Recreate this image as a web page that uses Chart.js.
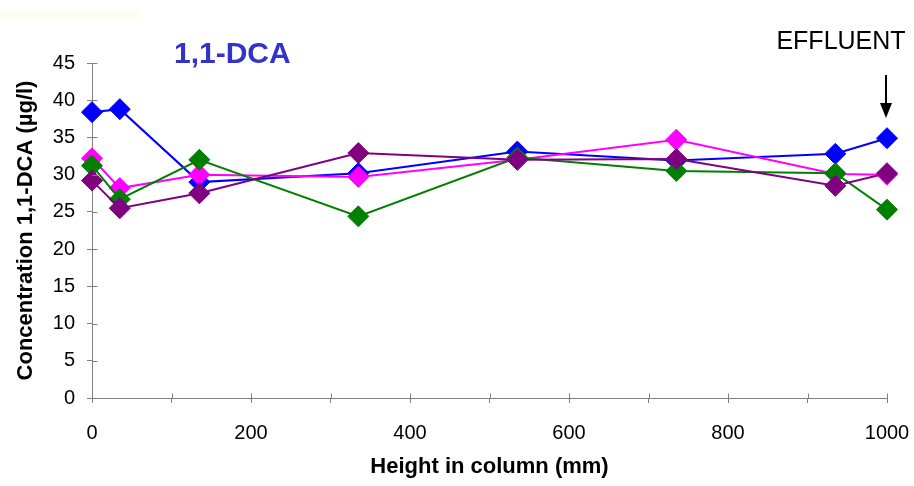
<!DOCTYPE html>
<html>
<head>
<meta charset="utf-8">
<script src="https://cdn.jsdelivr.net/npm/chart.js@4/dist/chart.umd.min.js"></script>
<style>
html,body{margin:0;padding:0;background:#fff;}
canvas{display:block;}
</style>
</head>
<body>
<canvas id="c" width="914" height="486"></canvas>
<script>
// ---- data ----
const heights = [0, 35, 135, 335, 535, 735, 935, 1000];
const seriesBlue    = [38.4, 38.8, 29.0, 30.2, 33.1, 31.9, 32.8, 34.9];
const seriesMagenta = [32.2, 28.2, 30.0, 29.7, 32.0, 34.7, 30.1, 30.0];
const seriesGreen   = [31.2, 26.7, 32.0, 24.4, 32.3, 30.5, 30.2, 25.3];
const seriesPurple  = [29.2, 25.5, 27.5, 32.9, 32.0, 32.1, 28.5, 30.2];
const xTickLabels = ['0', '200', '400', '600', '800', '1000'];
const yTickLabels = ['0','5','10','15','20','25','30','35','40','45'];
const chartTitle = '1,1-DCA';
const xTitle = 'Height in column (mm)';
const yTitle = 'Concentration 1,1-DCA (µg/l)';
const effluentLabel = 'EFFLUENT';

function pts(vals){ return heights.map((h,i)=>({x:h, y:vals[i]})); }
function ds(vals, color, order){
  return {
    data: pts(vals), showLine:true, borderColor:color, backgroundColor:color,
    borderWidth:2, pointStyle:'rectRot', pointRadius:10.5, pointHoverRadius:10.5,
    pointBorderWidth:1, pointBorderColor:color, pointBackgroundColor:color,
    tension:0, order:order, clip:false
  };
}

const axisColor = '#808080';
const FONT = '"Liberation Sans", Arial, sans-serif';

const extras = {
  id:'extras',
  beforeDraw(chart){
    const ctx = chart.ctx;
    ctx.save();
    ctx.fillStyle = '#fffdf2';
    ctx.fillRect(0, 10, 140, 10);
    ctx.restore();
  },
  afterDraw(chart){
    const ctx = chart.ctx;
    const xs = chart.scales.x, ys = chart.scales.y;
    ctx.save();
    // inner halves of tick marks
    ctx.strokeStyle = axisColor; ctx.lineWidth = 1;
    const x0 = Math.round(xs.getPixelForValue(0)) + 0.5;
    const y0 = Math.round(ys.getPixelForValue(0)) + 0.5;
    for (let v = 0; v <= 45; v += 5){
      const y = Math.round(ys.getPixelForValue(v)) + 0.5;
      ctx.beginPath(); ctx.moveTo(x0, y); ctx.lineTo(x0 + 5, y); ctx.stroke();
    }
    for (let v = 0; v <= 1000; v += 100){
      const x = Math.round(xs.getPixelForValue(v)) + 0.5;
      ctx.beginPath(); ctx.moveTo(x, y0); ctx.lineTo(x, y0 - 5); ctx.stroke();
    }
    // title inside plot
    ctx.fillStyle = '#3333cc';
    ctx.font = 'bold 30px ' + FONT;
    ctx.textBaseline = 'alphabetic'; ctx.textAlign = 'left';
    ctx.fillText(chartTitle, 174, 63);
    // effluent label + arrow
    const ax = Math.round(xs.getPixelForValue(1000)) - 1;
    ctx.fillStyle = '#000';
    ctx.font = '25px ' + FONT;
    ctx.textAlign = 'center';
    ctx.fillText(effluentLabel, 841, 48.5);
    const yTop = ys.getPixelForValue(43.4), yTip = ys.getPixelForValue(37.6);
    ctx.strokeStyle = '#000'; ctx.lineWidth = 2;
    ctx.beginPath(); ctx.moveTo(ax, yTop); ctx.lineTo(ax, yTip - 10); ctx.stroke();
    ctx.beginPath();
    ctx.moveTo(ax - 6, yTip - 15); ctx.lineTo(ax + 6, yTip - 15); ctx.lineTo(ax, yTip); ctx.closePath();
    ctx.fill();
    ctx.restore();
  }
};

new Chart(document.getElementById('c'), {
  type:'scatter',
  data:{ datasets:[
    ds(seriesBlue, '#0000ff', 4),
    ds(seriesMagenta, '#ff00ff', 3),
    ds(seriesGreen, '#008000', 2),
    ds(seriesPurple, '#800080', 1)
  ]},
  options:{
    responsive:false, animation:false, devicePixelRatio:1,
    layout:{ padding:{ left:0, right:27, top:63, bottom:0 } },
    plugins:{ legend:{display:false}, tooltip:{enabled:false}, title:{display:false} },
    scales:{
      x:{
        type:'linear', min:0, max:1000,
        afterFit(s){ s.height = 88; s.paddingLeft = 0; s.paddingRight = 0; },
        ticks:{ stepSize:100, autoSkip:false, maxRotation:0, padding:18, color:'#000',
          font:{family:FONT, size:20},
          callback(v){ const i = xTickLabels.indexOf(String(v)); return i >= 0 ? xTickLabels[i] : ''; } },
        grid:{ drawOnChartArea:false, drawTicks:true, tickLength:5, color:axisColor },
        border:{ display:true, color:axisColor, width:1 },
        title:{ display:true, text:xTitle, color:'#000', font:{family:FONT, size:22, weight:'bold'}, padding:{top:0, bottom:6} }
      },
      y:{
        type:'linear', min:0, max:45,
        afterFit(s){ s.width = 92; s.paddingTop = 0; s.paddingBottom = 0; },
        ticks:{ stepSize:5, autoSkip:false, padding:12, color:'#000',
          font:{family:FONT, size:20},
          callback(v){ const i = yTickLabels.indexOf(String(v)); return i >= 0 ? yTickLabels[i] : ''; } },
        grid:{ drawOnChartArea:false, drawTicks:true, tickLength:5, color:axisColor },
        border:{ display:true, color:axisColor, width:1 },
        title:{ display:true, text:yTitle, color:'#000', font:{family:FONT, size:22, weight:'bold'}, padding:{top:13, bottom:0} }
      }
    }
  },
  plugins:[extras]
});
</script>
</body>
</html>
